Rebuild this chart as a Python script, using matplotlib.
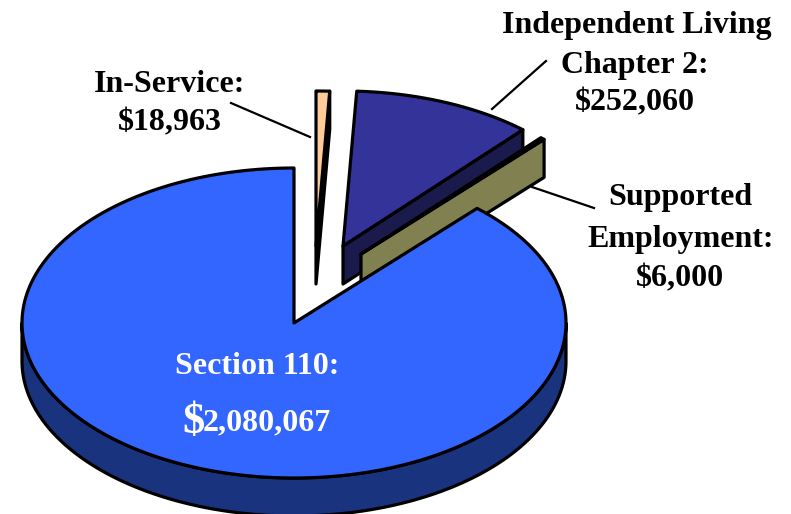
import numpy as np
import matplotlib
matplotlib.use('Agg')
import matplotlib.pyplot as plt
from matplotlib.patches import Polygon

plt.rcParams['font.family'] = ['Liberation Serif', 'DejaVu Serif']

# slices in clockwise order starting from 12 o'clock
names = ['In-Service', 'Independent Living Chapter 2', 'Supported Employment', 'Section 110']
values = [18963, 252060, 6000, 2080067]

top_colors = ['#FFCC99', '#333399', '#FFFF99', '#3366FF']
side_colors = ['#1A1A1A', '#1A1A4D', '#808050', '#1A337F']
centers = [(316, 246), (343, 246), (361, 254), (294, 323)]

RX, RY = 272, 155
DEPTH = 38

fig = plt.figure(figsize=(7.91, 5.14), dpi=100)
ax = fig.add_axes([0, 0, 1, 1])
ax.set_xlim(0, 791)
ax.set_ylim(514, 0)
ax.axis('off')


def rim(center, a, shift=0):
    # point(s) on the ellipse, angle in degrees clockwise from the top
    a = np.radians(a)
    return np.column_stack([center[0] + RX * np.sin(a), center[1] - RY * np.cos(a) + shift])


def draw_slice(center, a0, a1, top, side, lw, z):
    apex = np.array([center])
    down = np.array([0, DEPTH])
    # right hand cut face, only seen when the slice is not the big one
    if a1 < 180:
        end = rim(center, [a1])
        quad = np.vstack([apex, end, end + down, apex + down])
        ax.add_patch(Polygon(quad, fc=side, ec='black', lw=lw, joinstyle='round', zorder=z))
    # outer wall along the front of the pie
    f0, f1 = max(a0, 90), min(a1, 270)
    if f0 < f1:
        arc = rim(center, np.linspace(f0, f1, 200))
        wall = np.vstack([arc, arc[::-1] + down])
        ax.add_patch(Polygon(wall, fc=side, ec='black', lw=lw, joinstyle='round', zorder=z))
    arc = rim(center, np.linspace(a0, a1, 200))
    ax.add_patch(Polygon(np.vstack([apex, arc]), fc=top, ec='black', lw=lw,
                         joinstyle='round', zorder=z + 0.5))


bounds = np.concatenate([[0], np.cumsum(values)]) / np.sum(values) * 360
for i in range(len(values)):
    draw_slice(centers[i], bounds[i], bounds[i + 1], top_colors[i], side_colors[i], 2.3, i + 1)

# leader lines
ax.plot([231, 310], [103, 137], color='black', lw=1.6, zorder=6)
ax.plot([546, 492], [61, 109], color='black', lw=1.6, zorder=6)
ax.plot([532, 594], [187, 208], color='black', lw=1.6, zorder=6)

bold = dict(fontsize=23, fontweight='bold', ha='center', va='center', zorder=7)
ax.text(170, 85, 'In-Service:', color='black', **bold)
ax.text(170, 123, '$18,963', color='black', **bold)
ax.text(637, 25, 'Independent Living', color='black', **bold)
ax.text(635, 65, 'Chapter 2:', color='black', **bold)
ax.text(635, 103, '$252,060', color='black', **bold)
ax.text(680, 198, 'Supported', color='black', **bold)
ax.text(681, 239, 'Employment:', color='black', **bold)
ax.text(680, 279, '$6,000', color='black', **bold)
ax.text(257, 367, 'Section 110:', color='white', **bold)
ax.text(193, 422, '$', color='white', fontsize=32, fontweight='bold', ha='center', va='center', zorder=7)
ax.text(267, 423, '2,080,067', color='white', **bold)

fig.savefig('out.png', dpi=100)
